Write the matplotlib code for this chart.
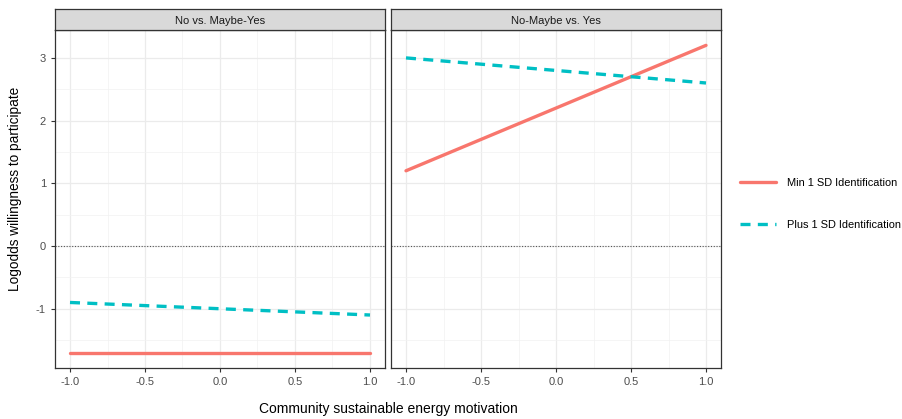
import matplotlib.pyplot as plt
import numpy as np
from matplotlib.ticker import MultipleLocator

plt.rcParams['font.family'] = ['Liberation Sans', 'DejaVu Sans']

# data
panels = ['No vs. Maybe-Yes', 'No-Maybe vs. Yes']
motivation = [-1.0, 0.0, 1.0]
min_sd = [[-1.7, -1.7, -1.7], [1.2, 2.2, 3.2]]
plus_sd = [[-0.9, -1.0, -1.1], [3.0, 2.8, 2.6]]
series_names = ['Min 1 SD Identification', 'Plus 1 SD Identification']
red = '#F8766D'
teal = '#00BFC4'

fig = plt.figure(figsize=(9.03, 4.19), dpi=100)
W, H = 903, 419
left_x = [55, 391]
pw = 330
top, bottom = 30, 368
strip_h = 21

axes = []
for i, name in enumerate(panels):
    ax = fig.add_axes([left_x[i] / W, 1 - bottom / H, pw / W, (bottom - top) / H])
    axes.append(ax)
    ax.plot(motivation, min_sd[i], color=red, lw=2.4, solid_capstyle='round',
            label=series_names[0], zorder=3)
    ax.plot(motivation, plus_sd[i], color=teal, lw=2.4, ls=(0, (3, 2.2)),
            label=series_names[1], zorder=3)
    ax.axhline(0, color='#555555', lw=0.8, ls=(0, (1, 1.5)), zorder=2)
    ax.set_xlim(-1.1, 1.1)
    ax.set_ylim(-1.945, 3.445)
    ax.xaxis.set_major_locator(MultipleLocator(0.5))
    ax.xaxis.set_minor_locator(MultipleLocator(0.25))
    ax.yaxis.set_major_locator(MultipleLocator(1))
    ax.yaxis.set_minor_locator(MultipleLocator(0.5))
    ax.grid(which='major', color='#EBEBEB', lw=0.9)
    ax.grid(which='minor', color='#F2F2F2', lw=0.5)
    ax.set_axisbelow(True)
    for s in ax.spines.values():
        s.set_color('#333333')
        s.set_linewidth(0.9)
    ax.tick_params(which='major', length=3, color='#333333', labelsize=8,
                   labelcolor='#4D4D4D')
    ax.tick_params(which='minor', length=0)
    ax.set_xticklabels([f'{v:.1f}' for v in ax.get_xticks()])
    if i == 1:
        ax.tick_params(axis='y', labelleft=False, length=0)
    else:
        ax.set_yticks([-1, 0, 1, 2, 3])
        ax.set_yticklabels(['-1', '0', '1', '2', '3'])
    # strip
    sax = fig.add_axes([left_x[i] / W, 1 - top / H, pw / W, strip_h / H])
    sax.set_facecolor('#D9D9D9')
    sax.set_xticks([])
    sax.set_yticks([])
    for s in sax.spines.values():
        s.set_color('#333333')
        s.set_linewidth(0.9)
    sax.text(0.5, 0.45, name, ha='center', va='center', fontsize=8,
             color='#1A1A1A', transform=sax.transAxes)

fig.text(15 / W, 1 - 189 / H, 'Logodds willingness to participate', rotation=90,
         ha='center', va='center', fontsize=9.8)
fig.text(388 / W, 1 - 409 / H, 'Community sustainable energy motivation',
         ha='center', va='center', fontsize=10)

handles, labels = axes[0].get_legend_handles_labels()
fig.legend(handles, labels, loc='center left', bbox_to_anchor=(730 / W, 1 - 204 / H),
           frameon=False, fontsize=7.9, handlelength=3.3, labelspacing=2.9,
           handletextpad=1.0)

fig.savefig('out.png', dpi=100)
